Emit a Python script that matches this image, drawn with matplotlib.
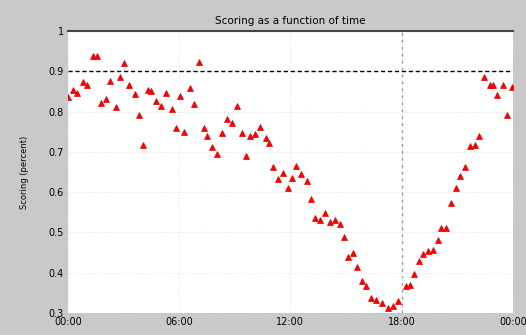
import matplotlib

matplotlib.use("Agg")

import matplotlib.pyplot as plt  # noqa: E402

# 时间（小时）与得分
hours = [
    0.02, 0.29, 0.47, 0.79, 1.01, 1.36, 1.55, 1.78, 2.05, 2.30, 2.59, 2.80,
    3.04, 3.31, 3.61, 3.85, 4.06, 4.33, 4.51, 4.78, 5.05, 5.32, 5.59, 5.82,
    6.04, 6.26, 6.58, 6.80, 7.08, 7.33, 7.51, 7.78, 8.07, 8.34, 8.56, 8.83,
    9.10, 9.37, 9.60, 9.82, 10.09, 10.36, 10.68, 10.86, 11.07, 11.34, 11.61,
    11.88, 12.10, 12.33, 12.60, 12.91, 13.14, 13.32, 13.59, 13.86, 14.13,
    14.40, 14.67, 14.89, 15.12, 15.39, 15.60, 15.84, 16.07, 16.34, 16.61,
    16.93, 17.26, 17.53, 17.80, 18.23, 18.45, 18.66, 18.95, 19.16, 19.43,
    19.67, 19.97, 20.15, 20.39, 20.69, 20.96, 21.17, 21.44, 21.68, 21.95,
    22.18, 22.44, 22.76, 22.94, 23.17, 23.48, 23.66, 23.98,
]
scores = [
    0.837, 0.854, 0.847, 0.873, 0.866, 0.938, 0.938, 0.822, 0.831, 0.876,
    0.812, 0.885, 0.922, 0.866, 0.845, 0.792, 0.717, 0.855, 0.851, 0.826,
    0.814, 0.847, 0.806, 0.760, 0.839, 0.750, 0.858, 0.818, 0.924, 0.760,
    0.739, 0.711, 0.694, 0.746, 0.781, 0.772, 0.814, 0.748, 0.690, 0.739,
    0.744, 0.763, 0.734, 0.721, 0.663, 0.633, 0.647, 0.610, 0.634, 0.664,
    0.645, 0.628, 0.582, 0.535, 0.531, 0.548, 0.527, 0.531, 0.521, 0.488,
    0.438, 0.450, 0.415, 0.378, 0.366, 0.337, 0.333, 0.324, 0.313, 0.318,
    0.330, 0.367, 0.370, 0.397, 0.430, 0.447, 0.455, 0.457, 0.481, 0.512,
    0.510, 0.574, 0.610, 0.641, 0.663, 0.715, 0.717, 0.739, 0.885, 0.866,
    0.866, 0.841, 0.866, 0.792, 0.862,
]

x_ticks = [0, 6, 12, 18, 24]
x_labels = ["00:00", "06:00", "12:00", "18:00", "00:00"]
y_ticks = [0.3, 0.4, 0.5, 0.6, 0.7, 0.8, 0.9, 1.0]
y_labels = ["0.3", "0.4", "0.5", "0.6", "0.7", "0.8", "0.9", "1"]
threshold = 0.9
marker_hour = 18

plt.rcParams["font.family"] = ["DejaVu Sans"]

fig = plt.figure(figsize=(5.26, 3.35), dpi=100, facecolor="#c9c9c9")
ax = fig.add_axes([0.129, 0.066, 0.846, 0.841])
ax.set_facecolor("white")

ax.grid(True, color="#e4e4e4", linestyle=":", linewidth=0.8)
ax.axhline(threshold, color="black", linestyle=(0, (3, 2)), linewidth=1.0)
ax.axvline(marker_hour, color="#999999", linestyle=(0, (2, 3)), linewidth=1.0)
ax.plot(hours, scores, linestyle="none", marker="^", markersize=4,
        color="#ff0000", markeredgecolor="#dd0000", markeredgewidth=0.5)

ax.set_xlim(0, 24)
ax.set_ylim(0.3, 1.0)
ax.set_xticks(x_ticks)
ax.set_xticklabels(x_labels, fontsize=7)
ax.set_yticks(y_ticks)
ax.set_yticklabels(y_labels, fontsize=7)
ax.tick_params(length=0, pad=3)

for side in ("left", "right", "bottom"):
    ax.spines[side].set_visible(False)
ax.spines["top"].set_color("#444444")
ax.spines["top"].set_linewidth(1.5)

ax.set_title("Scoring as a function of time", fontsize=7.5, pad=5)
ax.set_ylabel("Scoring (percent)", fontsize=6, labelpad=14)

fig.savefig("out.png", dpi=100, facecolor=fig.get_facecolor())
plt.close(fig)
